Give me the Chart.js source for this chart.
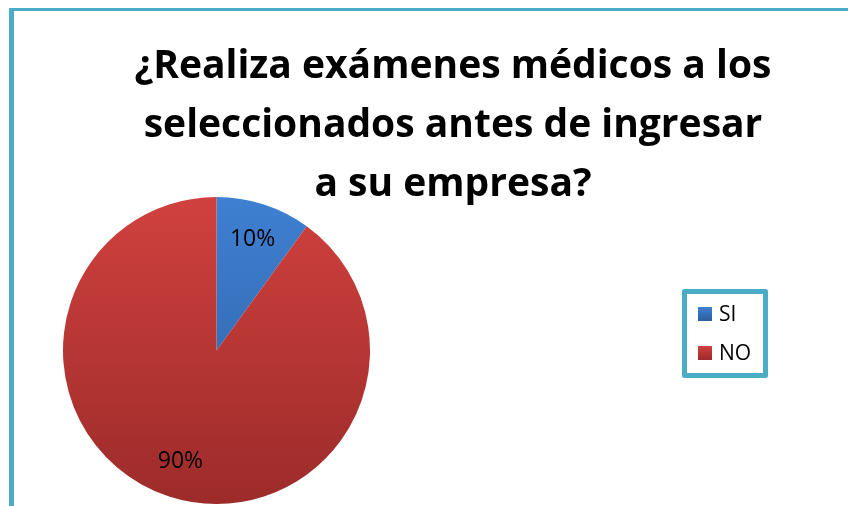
<!DOCTYPE html>
<html>
<head>
<meta charset="utf-8">
<script src="https://cdn.jsdelivr.net/npm/chart.js@4/dist/chart.umd.min.js"></script>
<style>
  html, body { margin: 0; padding: 0; background: #fff; overflow: hidden; }
  #frame {
    position: absolute; left: 9px; top: 8px; width: 900px; height: 600px;
    border-left: 5px solid #4bacc6; border-top: 3px solid #4bacc6;
  }
  #wrap { position: absolute; left: 0; top: 0; width: 848px; height: 506px; }
</style>
</head>
<body>
<div id="frame"></div>
<div id="wrap"><canvas id="pieChart" width="848" height="506"></canvas></div>
<script>
// respuestas a la encuesta
var categorias = ['SI', 'NO'];
var porcentajes = [10, 90];
var titulo = ['¿Realiza exámenes médicos a los', 'seleccionados antes de ingresar', 'a su empresa?'];

// colores (arriba / abajo del degradado)
var coloresArriba = ['#3f80d2', '#d0413e'];
var coloresAbajo = ['#2c5d9f', '#9c2b2a'];
var colorMarco = '#4bacc6';
var fuente = '"Open Sans", sans-serif';

function degradado(context) {
    var chart = context.chart;
    var area = chart.chartArea;
    var i = context.dataIndex;
    if (!area) return coloresArriba[i];
    var g = chart.ctx.createLinearGradient(0, area.top, 0, area.bottom);
    g.addColorStop(0, coloresArriba[i]);
    g.addColorStop(1, coloresAbajo[i]);
    return g;
}

// titulo, etiquetas de porcentaje y leyenda con marco
var extras = {
    id: 'extras',
    afterDatasetsDraw: function(chart) {
        var ctx = chart.ctx;
        var meta = chart.getDatasetMeta(0);
        var total = porcentajes.reduce(function(a, b) { return a + b; }, 0);
        ctx.save();
        ctx.fillStyle = '#000';
        ctx.font = '23px ' + fuente;
        ctx.textAlign = 'center';
        ctx.textBaseline = 'middle';
        meta.data.forEach(function(arc, i) {
            var p = arc.getProps(['x', 'y', 'startAngle', 'endAngle', 'outerRadius'], true);
            var mid = (p.startAngle + p.endAngle) / 2;
            var r = p.outerRadius * 0.76;
            var txt = Math.round(porcentajes[i] / total * 100) + '%';
            ctx.fillText(txt, p.x + Math.cos(mid) * r, p.y + Math.sin(mid) * r);
        });
        ctx.restore();
    },
    afterDraw: function(chart) {
        var ctx = chart.ctx;
        ctx.save();
        // titulo
        ctx.fillStyle = '#000';
        ctx.font = 'bold 39px ' + fuente;
        ctx.textAlign = 'center';
        ctx.textBaseline = 'alphabetic';
        titulo.forEach(function(linea, i) {
            ctx.fillText(linea, 453, 78 + i * 59);
        });

        // leyenda
        ctx.strokeStyle = colorMarco;
        ctx.lineWidth = 5;
        ctx.lineJoin = 'round';
        ctx.strokeRect(684.5, 291.5, 81, 84);
        ctx.font = '21px ' + fuente;
        ctx.textAlign = 'left';
        ctx.textBaseline = 'middle';
        categorias.forEach(function(cat, i) {
            var y = 307 + i * 39;
            var g = ctx.createLinearGradient(0, y, 0, y + 14);
            g.addColorStop(0, coloresArriba[i]);
            g.addColorStop(1, coloresAbajo[i]);
            ctx.fillStyle = g;
            ctx.fillRect(698, y, 14, 14);
            ctx.fillStyle = '#000';
            ctx.fillText(cat, 719, y + 8);
        });
        ctx.restore();
    }
};

new Chart(document.getElementById('pieChart'), {
    type: 'pie',
    data: {
        labels: categorias,
        datasets: [{
            data: porcentajes,
            backgroundColor: degradado,
            borderWidth: 0
        }]
    },
    options: {
        responsive: false,
        animation: false,
        layout: { padding: { left: 63, right: 478, top: 197, bottom: 2 } },
        plugins: {
            legend: { display: false },
            title: { display: false },
            tooltip: { enabled: false }
        }
    },
    plugins: [extras]
});
</script>
</body>
</html>
